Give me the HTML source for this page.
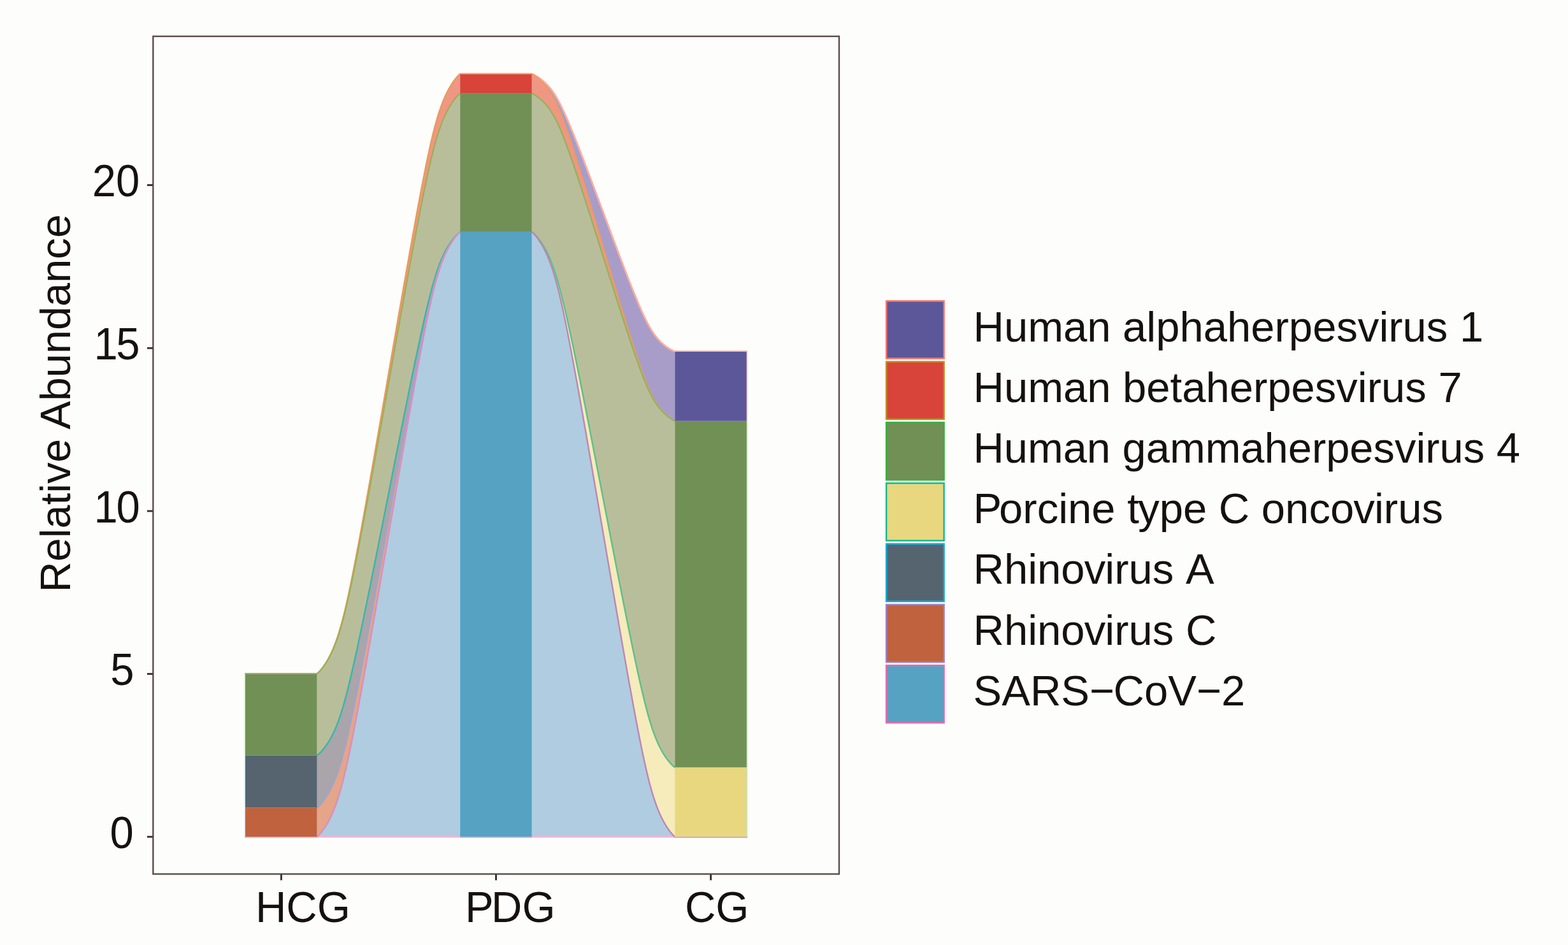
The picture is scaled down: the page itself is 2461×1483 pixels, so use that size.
<!DOCTYPE html>
<html lang="en"><head><meta charset="utf-8"><title>Relative Abundance</title>
<style>
html,body{margin:0;padding:0;background:#fdfdfc;}
body{width:2461px;height:1483px;overflow:hidden;}
svg{display:block;filter:blur(0.3px);}
text{font-family:"Liberation Sans",Arial,Helvetica,sans-serif;font-size:66.70px;fill:#15110f;}
</style></head><body>
<svg width="2461" height="1483" viewBox="0 0 2461 1483" role="img" aria-label="Alluvial plot of relative abundance">
<defs><linearGradient id="pdgtop" x1="0" y1="0" x2="0" y2="1"><stop offset="0" stop-color="#f6b98e" stop-opacity="0"/><stop offset="0.35" stop-color="#f3ae84" stop-opacity="0.85"/><stop offset="0.75" stop-color="#e57f58" stop-opacity="0.9"/><stop offset="1" stop-color="#d8433a" stop-opacity="0"/></linearGradient></defs>
<rect x="0" y="0" width="2461" height="1483" fill="#fdfdfc"/>
<g id="flows" stroke-linejoin="round" stroke-linecap="butt">
<polygon points="497.60,1057.50 497.61,1057.50 497.64,1057.47 497.73,1057.40 497.91,1057.26 498.19,1057.02 498.59,1056.67 499.13,1056.17 499.81,1055.51 500.64,1054.66 501.62,1053.61 502.74,1052.35 504.00,1050.85 505.38,1049.13 506.87,1047.17 508.45,1044.97 510.10,1042.53 511.81,1039.86 513.56,1036.95 515.34,1033.82 517.13,1030.46 518.94,1026.88 520.73,1023.07 522.53,1019.03 524.31,1014.75 526.08,1010.23 527.83,1005.45 529.58,1000.40 531.32,995.07 533.06,989.44 534.80,983.47 536.55,977.17 538.31,970.48 540.09,963.40 541.91,955.89 543.75,947.93 545.64,939.50 547.58,930.56 549.57,921.10 551.62,911.11 553.74,900.58 555.91,889.53 558.16,877.94 560.47,865.81 562.85,853.12 565.31,839.88 567.85,826.09 570.46,811.74 573.14,796.86 575.90,781.46 578.73,765.56 581.63,749.18 584.59,732.35 587.61,715.11 590.68,697.50 593.81,679.56 596.97,661.34 600.17,642.90 603.39,624.28 606.63,605.54 609.88,586.75 613.12,567.96 616.36,549.22 619.58,530.60 622.78,512.16 625.94,493.94 629.07,476.00 632.14,458.39 635.16,441.15 638.12,424.32 641.02,407.94 643.85,392.04 646.61,376.64 649.29,361.76 651.90,347.41 654.44,333.62 656.90,320.38 659.28,307.69 661.59,295.56 663.84,283.97 666.01,272.92 668.13,262.39 670.18,252.40 672.17,242.94 674.11,234.00 676.00,225.57 677.84,217.61 679.66,210.10 681.44,203.02 683.20,196.33 684.95,190.03 686.69,184.06 688.43,178.43 690.17,173.10 691.92,168.05 693.67,163.27 695.44,158.75 697.22,154.47 699.02,150.43 700.81,146.62 702.62,143.04 704.41,139.68 706.19,136.55 707.94,133.64 709.65,130.97 711.30,128.53 712.88,126.33 714.37,124.37 715.75,122.65 717.01,121.15 718.13,119.89 719.11,118.84 719.94,117.99 720.62,117.33 721.16,116.83 721.56,116.48 721.84,116.24 722.02,116.10 722.11,116.03 722.14,116.00 722.15,116.00 722.15,146.60 722.14,146.60 722.11,146.63 722.02,146.70 721.84,146.84 721.56,147.06 721.16,147.41 720.62,147.89 719.94,148.53 719.11,149.35 718.13,150.36 717.01,151.59 715.75,153.03 714.37,154.70 712.88,156.60 711.30,158.73 709.65,161.08 707.94,163.67 706.19,166.48 704.41,169.51 702.62,172.76 700.81,176.22 699.02,179.91 697.22,183.82 695.44,187.96 693.67,192.33 691.92,196.96 690.17,201.84 688.43,207.00 686.69,212.45 684.95,218.22 683.20,224.32 681.44,230.79 679.66,237.64 677.84,244.90 676.00,252.60 674.11,260.77 672.17,269.42 670.18,278.57 668.13,288.23 666.01,298.42 663.84,309.11 661.59,320.32 659.28,332.06 656.90,344.33 654.44,357.15 651.90,370.49 649.29,384.37 646.61,398.77 643.85,413.67 641.02,429.05 638.12,444.90 635.16,461.18 632.14,477.86 629.07,494.90 625.94,512.26 622.78,529.88 619.58,547.73 616.36,565.74 613.12,583.87 609.88,602.05 606.63,620.23 603.39,638.36 600.17,656.37 596.97,674.22 593.81,691.84 590.68,709.20 587.61,726.24 584.59,742.92 581.63,759.20 578.73,775.05 575.90,790.43 573.14,805.33 570.46,819.73 567.85,833.61 565.31,846.95 562.85,859.77 560.47,872.04 558.16,883.78 555.91,894.99 553.74,905.68 551.62,915.87 549.57,925.53 547.58,934.68 545.64,943.33 543.75,951.50 541.91,959.20 540.09,966.46 538.31,973.31 536.55,979.78 534.80,985.88 533.06,991.65 531.32,997.10 529.58,1002.26 527.83,1007.14 526.08,1011.77 524.31,1016.14 522.53,1020.28 520.73,1024.19 518.94,1027.88 517.13,1031.34 515.34,1034.59 513.56,1037.62 511.81,1040.43 510.10,1043.02 508.45,1045.37 506.87,1047.50 505.38,1049.40 504.00,1051.07 502.74,1052.51 501.62,1053.74 500.64,1054.75 499.81,1055.57 499.13,1056.21 498.59,1056.69 498.19,1057.04 497.91,1057.26 497.73,1057.40 497.64,1057.47 497.61,1057.50 497.60,1057.50" fill="#ef9782"/>
<polygon points="497.60,1057.50 497.61,1057.50 497.64,1057.47 497.73,1057.40 497.91,1057.26 498.19,1057.04 498.59,1056.69 499.13,1056.21 499.81,1055.57 500.64,1054.75 501.62,1053.74 502.74,1052.51 504.00,1051.07 505.38,1049.40 506.87,1047.50 508.45,1045.37 510.10,1043.02 511.81,1040.43 513.56,1037.62 515.34,1034.59 517.13,1031.34 518.94,1027.88 520.73,1024.19 522.53,1020.28 524.31,1016.14 526.08,1011.77 527.83,1007.14 529.58,1002.26 531.32,997.10 533.06,991.65 534.80,985.88 536.55,979.78 538.31,973.31 540.09,966.46 541.91,959.20 543.75,951.50 545.64,943.33 547.58,934.68 549.57,925.53 551.62,915.87 553.74,905.68 555.91,894.99 558.16,883.78 560.47,872.04 562.85,859.77 565.31,846.95 567.85,833.61 570.46,819.73 573.14,805.33 575.90,790.43 578.73,775.05 581.63,759.20 584.59,742.92 587.61,726.24 590.68,709.20 593.81,691.84 596.97,674.22 600.17,656.37 603.39,638.36 606.63,620.23 609.88,602.05 613.12,583.87 616.36,565.74 619.58,547.73 622.78,529.88 625.94,512.26 629.07,494.90 632.14,477.86 635.16,461.18 638.12,444.90 641.02,429.05 643.85,413.67 646.61,398.77 649.29,384.37 651.90,370.49 654.44,357.15 656.90,344.33 659.28,332.06 661.59,320.32 663.84,309.11 666.01,298.42 668.13,288.23 670.18,278.57 672.17,269.42 674.11,260.77 676.00,252.60 677.84,244.90 679.66,237.64 681.44,230.79 683.20,224.32 684.95,218.22 686.69,212.45 688.43,207.00 690.17,201.84 691.92,196.96 693.67,192.33 695.44,187.96 697.22,183.82 699.02,179.91 700.81,176.22 702.62,172.76 704.41,169.51 706.19,166.48 707.94,163.67 709.65,161.08 711.30,158.73 712.88,156.60 714.37,154.70 715.75,153.03 717.01,151.59 718.13,150.36 719.11,149.35 719.94,148.53 720.62,147.89 721.16,147.41 721.56,147.06 721.84,146.84 722.02,146.70 722.11,146.63 722.14,146.60 722.15,146.60 722.15,363.90 722.14,363.90 722.11,363.93 722.02,363.99 721.84,364.11 721.56,364.32 721.16,364.63 720.62,365.06 719.94,365.64 719.11,366.38 718.13,367.29 717.01,368.40 715.75,369.70 714.37,371.20 712.88,372.92 711.30,374.84 709.65,376.96 707.94,379.29 706.19,381.83 704.41,384.56 702.62,387.49 700.81,390.62 699.02,393.94 697.22,397.47 695.44,401.20 693.67,405.15 691.92,409.31 690.17,413.72 688.43,418.37 686.69,423.29 684.95,428.49 683.20,434.00 681.44,439.83 679.66,446.01 677.84,452.56 676.00,459.50 674.11,466.86 672.17,474.66 670.18,482.92 668.13,491.63 666.01,500.82 663.84,510.46 661.59,520.57 659.28,531.16 656.90,542.23 654.44,553.78 651.90,565.82 649.29,578.33 646.61,591.32 643.85,604.76 641.02,618.63 638.12,632.93 635.16,647.61 632.14,662.65 629.07,678.02 625.94,693.67 622.78,709.56 619.58,725.66 616.36,741.90 613.12,758.25 609.88,774.65 606.63,791.05 603.39,807.40 600.17,823.64 596.97,839.74 593.81,855.63 590.68,871.28 587.61,886.65 584.59,901.69 581.63,916.37 578.73,930.67 575.90,944.54 573.14,957.98 570.46,970.97 567.85,983.48 565.31,995.52 562.85,1007.07 560.47,1018.14 558.16,1028.73 555.91,1038.84 553.74,1048.48 551.62,1057.67 549.57,1066.38 547.58,1074.64 545.64,1082.44 543.75,1089.80 541.91,1096.74 540.09,1103.29 538.31,1109.47 536.55,1115.30 534.80,1120.81 533.06,1126.01 531.32,1130.93 529.58,1135.58 527.83,1139.99 526.08,1144.15 524.31,1148.10 522.53,1151.83 520.73,1155.36 518.94,1158.68 517.13,1161.81 515.34,1164.74 513.56,1167.47 511.81,1170.01 510.10,1172.34 508.45,1174.46 506.87,1176.38 505.38,1178.10 504.00,1179.60 502.74,1180.90 501.62,1182.01 500.64,1182.92 499.81,1183.66 499.13,1184.24 498.59,1184.67 498.19,1184.98 497.91,1185.19 497.73,1185.31 497.64,1185.37 497.61,1185.40 497.60,1185.40" fill="#b9be9a"/>
<polygon points="497.60,1185.40 497.61,1185.40 497.64,1185.37 497.73,1185.31 497.91,1185.19 498.19,1184.98 498.59,1184.67 499.13,1184.24 499.81,1183.66 500.64,1182.92 501.62,1182.01 502.74,1180.90 504.00,1179.60 505.38,1178.10 506.87,1176.38 508.45,1174.46 510.10,1172.34 511.81,1170.01 513.56,1167.47 515.34,1164.74 517.13,1161.81 518.94,1158.68 520.73,1155.36 522.53,1151.83 524.31,1148.10 526.08,1144.15 527.83,1139.99 529.58,1135.58 531.32,1130.93 533.06,1126.01 534.80,1120.81 536.55,1115.30 538.31,1109.47 540.09,1103.29 541.91,1096.74 543.75,1089.80 545.64,1082.44 547.58,1074.64 549.57,1066.38 551.62,1057.67 553.74,1048.48 555.91,1038.84 558.16,1028.73 560.47,1018.14 562.85,1007.07 565.31,995.52 567.85,983.48 570.46,970.97 573.14,957.98 575.90,944.54 578.73,930.67 581.63,916.37 584.59,901.69 587.61,886.65 590.68,871.28 593.81,855.63 596.97,839.74 600.17,823.64 603.39,807.40 606.63,791.05 609.88,774.65 613.12,758.25 616.36,741.90 619.58,725.66 622.78,709.56 625.94,693.67 629.07,678.02 632.14,662.65 635.16,647.61 638.12,632.93 641.02,618.63 643.85,604.76 646.61,591.32 649.29,578.33 651.90,565.82 654.44,553.78 656.90,542.23 659.28,531.16 661.59,520.57 663.84,510.46 666.01,500.82 668.13,491.63 670.18,482.92 672.17,474.66 674.11,466.86 676.00,459.50 677.84,452.56 679.66,446.01 681.44,439.83 683.20,434.00 684.95,428.49 686.69,423.29 688.43,418.37 690.17,413.72 691.92,409.31 693.67,405.15 695.44,401.20 697.22,397.47 699.02,393.94 700.81,390.62 702.62,387.49 704.41,384.56 706.19,381.83 707.94,379.29 709.65,376.96 711.30,374.84 712.88,372.92 714.37,371.20 715.75,369.70 717.01,368.40 718.13,367.29 719.11,366.38 719.94,365.64 720.62,365.06 721.16,364.63 721.56,364.32 721.84,364.11 722.02,363.99 722.11,363.93 722.14,363.90 722.15,363.90 722.15,363.90 722.14,363.90 722.11,363.93 722.02,364.00 721.84,364.13 721.56,364.36 721.16,364.70 720.62,365.18 719.94,365.81 719.11,366.63 718.13,367.63 717.01,368.85 715.75,370.28 714.37,371.93 712.88,373.82 711.30,375.93 709.65,378.27 707.94,380.83 706.19,383.62 704.41,386.63 702.62,389.85 700.81,393.29 699.02,396.95 697.22,400.83 695.44,404.93 693.67,409.27 691.92,413.86 690.17,418.70 688.43,423.82 686.69,429.23 684.95,434.95 683.20,441.01 681.44,447.42 679.66,454.22 677.84,461.43 676.00,469.07 674.11,477.17 672.17,485.75 670.18,494.83 668.13,504.42 666.01,514.52 663.84,525.12 661.59,536.25 659.28,547.89 656.90,560.07 654.44,572.78 651.90,586.02 649.29,599.79 646.61,614.07 643.85,628.86 641.02,644.12 638.12,659.85 635.16,676.00 632.14,692.54 629.07,709.45 625.94,726.66 622.78,744.15 619.58,761.86 616.36,779.73 613.12,797.71 609.88,815.75 606.63,833.79 603.39,851.77 600.17,869.64 596.97,887.35 593.81,904.84 590.68,922.05 587.61,938.96 584.59,955.50 581.63,971.65 578.73,987.38 575.90,1002.64 573.14,1017.43 570.46,1031.71 567.85,1045.48 565.31,1058.72 562.85,1071.43 560.47,1083.61 558.16,1095.25 555.91,1106.38 553.74,1116.98 551.62,1127.08 549.57,1136.67 547.58,1145.75 545.64,1154.33 543.75,1162.43 541.91,1170.07 540.09,1177.28 538.31,1184.08 536.55,1190.49 534.80,1196.55 533.06,1202.27 531.32,1207.68 529.58,1212.80 527.83,1217.64 526.08,1222.23 524.31,1226.57 522.53,1230.67 520.73,1234.55 518.94,1238.21 517.13,1241.65 515.34,1244.87 513.56,1247.88 511.81,1250.67 510.10,1253.23 508.45,1255.57 506.87,1257.68 505.38,1259.57 504.00,1261.22 502.74,1262.65 501.62,1263.87 500.64,1264.87 499.81,1265.69 499.13,1266.32 498.59,1266.80 498.19,1267.14 497.91,1267.37 497.73,1267.50 497.64,1267.57 497.61,1267.60 497.60,1267.60" fill="#a9a5ab"/>
<polygon points="497.60,1267.60 497.61,1267.60 497.64,1267.57 497.73,1267.50 497.91,1267.37 498.19,1267.14 498.59,1266.80 499.13,1266.32 499.81,1265.69 500.64,1264.87 501.62,1263.87 502.74,1262.65 504.00,1261.22 505.38,1259.57 506.87,1257.68 508.45,1255.57 510.10,1253.23 511.81,1250.67 513.56,1247.88 515.34,1244.87 517.13,1241.65 518.94,1238.21 520.73,1234.55 522.53,1230.67 524.31,1226.57 526.08,1222.23 527.83,1217.64 529.58,1212.80 531.32,1207.68 533.06,1202.27 534.80,1196.55 536.55,1190.49 538.31,1184.08 540.09,1177.28 541.91,1170.07 543.75,1162.43 545.64,1154.33 547.58,1145.75 549.57,1136.67 551.62,1127.08 553.74,1116.98 555.91,1106.38 558.16,1095.25 560.47,1083.61 562.85,1071.43 565.31,1058.72 567.85,1045.48 570.46,1031.71 573.14,1017.43 575.90,1002.64 578.73,987.38 581.63,971.65 584.59,955.50 587.61,938.96 590.68,922.05 593.81,904.84 596.97,887.35 600.17,869.64 603.39,851.77 606.63,833.79 609.88,815.75 613.12,797.71 616.36,779.73 619.58,761.86 622.78,744.15 625.94,726.66 629.07,709.45 632.14,692.54 635.16,676.00 638.12,659.85 641.02,644.12 643.85,628.86 646.61,614.07 649.29,599.79 651.90,586.02 654.44,572.78 656.90,560.07 659.28,547.89 661.59,536.25 663.84,525.12 666.01,514.52 668.13,504.42 670.18,494.83 672.17,485.75 674.11,477.17 676.00,469.07 677.84,461.43 679.66,454.22 681.44,447.42 683.20,441.01 684.95,434.95 686.69,429.23 688.43,423.82 690.17,418.70 691.92,413.86 693.67,409.27 695.44,404.93 697.22,400.83 699.02,396.95 700.81,393.29 702.62,389.85 704.41,386.63 706.19,383.62 707.94,380.83 709.65,378.27 711.30,375.93 712.88,373.82 714.37,371.93 715.75,370.28 717.01,368.85 718.13,367.63 719.11,366.63 719.94,365.81 720.62,365.18 721.16,364.70 721.56,364.36 721.84,364.13 722.02,364.00 722.11,363.93 722.14,363.90 722.15,363.90 722.15,363.90 722.14,363.90 722.11,363.93 722.02,364.00 721.84,364.15 721.56,364.38 721.16,364.74 720.62,365.24 719.94,365.91 719.11,366.76 718.13,367.82 717.01,369.10 715.75,370.60 714.37,372.34 712.88,374.32 711.30,376.54 709.65,379.00 707.94,381.69 706.19,384.62 704.41,387.77 702.62,391.16 700.81,394.77 699.02,398.62 697.22,402.69 695.44,407.00 693.67,411.56 691.92,416.38 690.17,421.47 688.43,426.84 686.69,432.53 684.95,438.54 683.20,444.90 681.44,451.64 679.66,458.78 677.84,466.35 676.00,474.37 674.11,482.88 672.17,491.89 670.18,501.43 668.13,511.51 666.01,522.12 663.84,533.26 661.59,544.94 659.28,557.18 656.90,569.97 654.44,583.32 651.90,597.23 649.29,611.69 646.61,626.70 643.85,642.23 641.02,658.26 638.12,674.78 635.16,691.75 632.14,709.13 629.07,726.88 625.94,744.97 622.78,763.34 619.58,781.94 616.36,800.71 613.12,819.60 609.88,838.55 606.63,857.50 603.39,876.39 600.17,895.16 596.97,913.76 593.81,932.13 590.68,950.22 587.61,967.97 584.59,985.35 581.63,1002.32 578.73,1018.84 575.90,1034.87 573.14,1050.40 570.46,1065.41 567.85,1079.87 565.31,1093.78 562.85,1107.13 560.47,1119.92 558.16,1132.16 555.91,1143.84 553.74,1154.98 551.62,1165.59 549.57,1175.67 547.58,1185.21 545.64,1194.22 543.75,1202.73 541.91,1210.75 540.09,1218.32 538.31,1225.46 536.55,1232.20 534.80,1238.56 533.06,1244.57 531.32,1250.26 529.58,1255.63 527.83,1260.72 526.08,1265.54 524.31,1270.10 522.53,1274.41 520.73,1278.48 518.94,1282.33 517.13,1285.94 515.34,1289.33 513.56,1292.48 511.81,1295.41 510.10,1298.10 508.45,1300.56 506.87,1302.78 505.38,1304.76 504.00,1306.50 502.74,1308.00 501.62,1309.28 500.64,1310.34 499.81,1311.19 499.13,1311.86 498.59,1312.36 498.19,1312.72 497.91,1312.95 497.73,1313.10 497.64,1313.17 497.61,1313.20 497.60,1313.20" fill="#e4a588"/>
<polygon points="497.60,1313.20 497.61,1313.20 497.64,1313.17 497.73,1313.10 497.91,1312.95 498.19,1312.72 498.59,1312.36 499.13,1311.86 499.81,1311.19 500.64,1310.34 501.62,1309.28 502.74,1308.00 504.00,1306.50 505.38,1304.76 506.87,1302.78 508.45,1300.56 510.10,1298.10 511.81,1295.41 513.56,1292.48 515.34,1289.33 517.13,1285.94 518.94,1282.33 520.73,1278.48 522.53,1274.41 524.31,1270.10 526.08,1265.54 527.83,1260.72 529.58,1255.63 531.32,1250.26 533.06,1244.57 534.80,1238.56 536.55,1232.20 538.31,1225.46 540.09,1218.32 541.91,1210.75 543.75,1202.73 545.64,1194.22 547.58,1185.21 549.57,1175.67 551.62,1165.59 553.74,1154.98 555.91,1143.84 558.16,1132.16 560.47,1119.92 562.85,1107.13 565.31,1093.78 567.85,1079.87 570.46,1065.41 573.14,1050.40 575.90,1034.87 578.73,1018.84 581.63,1002.32 584.59,985.35 587.61,967.97 590.68,950.22 593.81,932.13 596.97,913.76 600.17,895.16 603.39,876.39 606.63,857.50 609.88,838.55 613.12,819.60 616.36,800.71 619.58,781.94 622.78,763.34 625.94,744.97 629.07,726.88 632.14,709.13 635.16,691.75 638.12,674.78 641.02,658.26 643.85,642.23 646.61,626.70 649.29,611.69 651.90,597.23 654.44,583.32 656.90,569.97 659.28,557.18 661.59,544.94 663.84,533.26 666.01,522.12 668.13,511.51 670.18,501.43 672.17,491.89 674.11,482.88 676.00,474.37 677.84,466.35 679.66,458.78 681.44,451.64 683.20,444.90 684.95,438.54 686.69,432.53 688.43,426.84 690.17,421.47 691.92,416.38 693.67,411.56 695.44,407.00 697.22,402.69 699.02,398.62 700.81,394.77 702.62,391.16 704.41,387.77 706.19,384.62 707.94,381.69 709.65,379.00 711.30,376.54 712.88,374.32 714.37,372.34 715.75,370.60 717.01,369.10 718.13,367.82 719.11,366.76 719.94,365.91 720.62,365.24 721.16,364.74 721.56,364.38 721.84,364.15 722.02,364.00 722.11,363.93 722.14,363.90 722.15,363.90 722.15,1313.20 722.14,1313.20 722.11,1313.20 722.02,1313.20 721.84,1313.20 721.56,1313.20 721.16,1313.20 720.62,1313.20 719.94,1313.20 719.11,1313.20 718.13,1313.20 717.01,1313.20 715.75,1313.20 714.37,1313.20 712.88,1313.20 711.30,1313.20 709.65,1313.20 707.94,1313.20 706.19,1313.20 704.41,1313.20 702.62,1313.20 700.81,1313.20 699.02,1313.20 697.22,1313.20 695.44,1313.20 693.67,1313.20 691.92,1313.20 690.17,1313.20 688.43,1313.20 686.69,1313.20 684.95,1313.20 683.20,1313.20 681.44,1313.20 679.66,1313.20 677.84,1313.20 676.00,1313.20 674.11,1313.20 672.17,1313.20 670.18,1313.20 668.13,1313.20 666.01,1313.20 663.84,1313.20 661.59,1313.20 659.28,1313.20 656.90,1313.20 654.44,1313.20 651.90,1313.20 649.29,1313.20 646.61,1313.20 643.85,1313.20 641.02,1313.20 638.12,1313.20 635.16,1313.20 632.14,1313.20 629.07,1313.20 625.94,1313.20 622.78,1313.20 619.58,1313.20 616.36,1313.20 613.12,1313.20 609.88,1313.20 606.63,1313.20 603.39,1313.20 600.17,1313.20 596.97,1313.20 593.81,1313.20 590.68,1313.20 587.61,1313.20 584.59,1313.20 581.63,1313.20 578.73,1313.20 575.90,1313.20 573.14,1313.20 570.46,1313.20 567.85,1313.20 565.31,1313.20 562.85,1313.20 560.47,1313.20 558.16,1313.20 555.91,1313.20 553.74,1313.20 551.62,1313.20 549.57,1313.20 547.58,1313.20 545.64,1313.20 543.75,1313.20 541.91,1313.20 540.09,1313.20 538.31,1313.20 536.55,1313.20 534.80,1313.20 533.06,1313.20 531.32,1313.20 529.58,1313.20 527.83,1313.20 526.08,1313.20 524.31,1313.20 522.53,1313.20 520.73,1313.20 518.94,1313.20 517.13,1313.20 515.34,1313.20 513.56,1313.20 511.81,1313.20 510.10,1313.20 508.45,1313.20 506.87,1313.20 505.38,1313.20 504.00,1313.20 502.74,1313.20 501.62,1313.20 500.64,1313.20 499.81,1313.20 499.13,1313.20 498.59,1313.20 498.19,1313.20 497.91,1313.20 497.73,1313.20 497.64,1313.20 497.61,1313.20 497.60,1313.20" fill="#b0cce0"/>
<polygon points="834.75,116.00 834.76,116.00 834.79,116.01 834.88,116.05 835.06,116.11 835.34,116.22 835.74,116.39 836.28,116.62 836.96,116.92 837.79,117.31 838.77,117.80 839.89,118.38 841.15,119.07 842.53,119.87 844.01,120.78 845.59,121.80 847.24,122.93 848.95,124.16 850.71,125.51 852.48,126.96 854.28,128.51 856.08,130.17 857.88,131.93 859.67,133.80 861.45,135.78 863.22,137.87 864.98,140.08 866.72,142.42 868.46,144.88 870.20,147.49 871.94,150.25 873.69,153.17 875.45,156.26 877.23,159.54 879.05,163.01 880.89,166.69 882.78,170.60 884.72,174.73 886.71,179.11 888.76,183.73 890.87,188.60 893.05,193.71 895.29,199.07 897.60,204.69 899.99,210.56 902.45,216.68 904.98,223.07 907.59,229.70 910.27,236.59 913.03,243.71 915.86,251.07 918.76,258.65 921.72,266.44 924.74,274.41 927.81,282.56 930.93,290.86 934.10,299.29 937.29,307.82 940.51,316.44 943.75,325.10 947.00,333.80 950.25,342.50 953.49,351.16 956.71,359.78 959.90,368.31 963.07,376.74 966.19,385.04 969.26,393.19 972.28,401.16 975.24,408.95 978.14,416.53 980.97,423.89 983.73,431.01 986.41,437.90 989.02,444.53 991.55,450.92 994.01,457.04 996.40,462.91 998.71,468.53 1000.95,473.89 1003.12,479.00 1005.24,483.87 1007.29,488.49 1009.28,492.87 1011.22,497.00 1013.11,500.91 1014.95,504.59 1016.77,508.06 1018.55,511.34 1020.31,514.43 1022.06,517.35 1023.80,520.11 1025.54,522.72 1027.28,525.18 1029.02,527.52 1030.78,529.73 1032.55,531.82 1034.33,533.80 1036.12,535.67 1037.92,537.43 1039.72,539.09 1041.52,540.64 1043.29,542.09 1045.05,543.44 1046.76,544.67 1048.41,545.80 1049.99,546.82 1051.47,547.73 1052.85,548.53 1054.11,549.22 1055.23,549.80 1056.21,550.29 1057.04,550.68 1057.72,550.98 1058.26,551.21 1058.66,551.38 1058.94,551.49 1059.12,551.55 1059.21,551.59 1059.24,551.60 1059.25,551.60 1059.25,660.70 1059.24,660.70 1059.21,660.68 1059.12,660.64 1058.94,660.56 1058.66,660.42 1058.26,660.22 1057.72,659.93 1057.04,659.55 1056.21,659.06 1055.23,658.45 1054.11,657.72 1052.85,656.86 1051.47,655.86 1049.99,654.72 1048.41,653.45 1046.76,652.04 1045.05,650.49 1043.29,648.81 1041.52,647.00 1039.72,645.06 1037.92,642.98 1036.12,640.78 1034.33,638.44 1032.55,635.97 1030.78,633.35 1029.02,630.59 1027.28,627.67 1025.54,624.58 1023.80,621.32 1022.06,617.87 1020.31,614.22 1018.55,610.36 1016.77,606.26 1014.95,601.92 1013.11,597.31 1011.22,592.43 1009.28,587.26 1007.29,581.79 1005.24,576.01 1003.12,569.92 1000.95,563.52 998.71,556.82 996.40,549.80 994.01,542.46 991.55,534.80 989.02,526.82 986.41,518.52 983.73,509.91 980.97,501.00 978.14,491.80 975.24,482.32 972.28,472.59 969.26,462.61 966.19,452.42 963.07,442.05 959.90,431.51 956.71,420.83 953.49,410.06 950.25,399.22 947.00,388.35 943.75,377.48 940.51,366.64 937.29,355.87 934.10,345.19 930.93,334.65 927.81,324.28 924.74,314.09 921.72,304.11 918.76,294.38 915.86,284.90 913.03,275.70 910.27,266.79 907.59,258.18 904.98,249.88 902.45,241.90 899.99,234.24 897.60,226.90 895.29,219.88 893.05,213.18 890.87,206.78 888.76,200.69 886.71,194.91 884.72,189.44 882.78,184.27 880.89,179.39 879.05,174.78 877.23,170.44 875.45,166.34 873.69,162.48 871.94,158.83 870.20,155.38 868.46,152.12 866.72,149.03 864.98,146.11 863.22,143.35 861.45,140.73 859.67,138.26 857.88,135.92 856.08,133.72 854.28,131.64 852.48,129.70 850.71,127.89 848.95,126.21 847.24,124.66 845.59,123.25 844.01,121.98 842.53,120.84 841.15,119.84 839.89,118.98 838.77,118.25 837.79,117.64 836.96,117.15 836.28,116.77 835.74,116.48 835.34,116.28 835.06,116.14 834.88,116.06 834.79,116.02 834.76,116.00 834.75,116.00" fill="#a89dc9"/>
<polygon points="834.75,116.00 834.76,116.00 834.79,116.02 834.88,116.06 835.06,116.14 835.34,116.28 835.74,116.48 836.28,116.77 836.96,117.15 837.79,117.64 838.77,118.25 839.89,118.98 841.15,119.84 842.53,120.84 844.01,121.98 845.59,123.25 847.24,124.66 848.95,126.21 850.71,127.89 852.48,129.70 854.28,131.64 856.08,133.72 857.88,135.92 859.67,138.26 861.45,140.73 863.22,143.35 864.98,146.11 866.72,149.03 868.46,152.12 870.20,155.38 871.94,158.83 873.69,162.48 875.45,166.34 877.23,170.44 879.05,174.78 880.89,179.39 882.78,184.27 884.72,189.44 886.71,194.91 888.76,200.69 890.87,206.78 893.05,213.18 895.29,219.88 897.60,226.90 899.99,234.24 902.45,241.90 904.98,249.88 907.59,258.18 910.27,266.79 913.03,275.70 915.86,284.90 918.76,294.38 921.72,304.11 924.74,314.09 927.81,324.28 930.93,334.65 934.10,345.19 937.29,355.87 940.51,366.64 943.75,377.48 947.00,388.35 950.25,399.22 953.49,410.06 956.71,420.83 959.90,431.51 963.07,442.05 966.19,452.42 969.26,462.61 972.28,472.59 975.24,482.32 978.14,491.80 980.97,501.00 983.73,509.91 986.41,518.52 989.02,526.82 991.55,534.80 994.01,542.46 996.40,549.80 998.71,556.82 1000.95,563.52 1003.12,569.92 1005.24,576.01 1007.29,581.79 1009.28,587.26 1011.22,592.43 1013.11,597.31 1014.95,601.92 1016.77,606.26 1018.55,610.36 1020.31,614.22 1022.06,617.87 1023.80,621.32 1025.54,624.58 1027.28,627.67 1029.02,630.59 1030.78,633.35 1032.55,635.97 1034.33,638.44 1036.12,640.78 1037.92,642.98 1039.72,645.06 1041.52,647.00 1043.29,648.81 1045.05,650.49 1046.76,652.04 1048.41,653.45 1049.99,654.72 1051.47,655.86 1052.85,656.86 1054.11,657.72 1055.23,658.45 1056.21,659.06 1057.04,659.55 1057.72,659.93 1058.26,660.22 1058.66,660.42 1058.94,660.56 1059.12,660.64 1059.21,660.68 1059.24,660.70 1059.25,660.70 1059.25,660.70 1059.24,660.70 1059.21,660.68 1059.12,660.64 1058.94,660.57 1058.66,660.44 1058.26,660.24 1057.72,659.97 1057.04,659.61 1056.21,659.15 1055.23,658.58 1054.11,657.89 1052.85,657.07 1051.47,656.13 1049.99,655.06 1048.41,653.86 1046.76,652.52 1045.05,651.07 1043.29,649.48 1041.52,647.77 1039.72,645.94 1037.92,643.98 1036.12,641.90 1034.33,639.69 1032.55,637.36 1030.78,634.89 1029.02,632.28 1027.28,629.52 1025.54,626.61 1023.80,623.53 1022.06,620.28 1020.31,616.83 1018.55,613.18 1016.77,609.32 1014.95,605.22 1013.11,600.87 1011.22,596.26 1009.28,591.38 1007.29,586.22 1005.24,580.76 1003.12,575.02 1000.95,568.98 998.71,562.65 996.40,556.03 994.01,549.10 991.55,541.87 989.02,534.34 986.41,526.51 983.73,518.38 980.97,509.97 978.14,501.29 975.24,492.34 972.28,483.15 969.26,473.74 966.19,464.12 963.07,454.33 959.90,444.38 956.71,434.31 953.49,424.14 950.25,413.91 947.00,403.65 943.75,393.39 940.51,383.16 937.29,372.99 934.10,362.92 930.93,352.97 927.81,343.18 924.74,333.56 921.72,324.15 918.76,314.96 915.86,306.01 913.03,297.33 910.27,288.92 907.59,280.79 904.98,272.96 902.45,265.43 899.99,258.20 897.60,251.27 895.29,244.65 893.05,238.32 890.87,232.28 888.76,226.54 886.71,221.08 884.72,215.92 882.78,211.04 880.89,206.43 879.05,202.08 877.23,197.98 875.45,194.12 873.69,190.47 871.94,187.02 870.20,183.77 868.46,180.69 866.72,177.78 864.98,175.02 863.22,172.41 861.45,169.94 859.67,167.61 857.88,165.40 856.08,163.32 854.28,161.36 852.48,159.53 850.71,157.82 848.95,156.23 847.24,154.78 845.59,153.44 844.01,152.24 842.53,151.17 841.15,150.23 839.89,149.41 838.77,148.72 837.79,148.15 836.96,147.69 836.28,147.33 835.74,147.06 835.34,146.86 835.06,146.73 834.88,146.66 834.79,146.62 834.76,146.60 834.75,146.60" fill="#ef9782"/>
<polygon points="834.75,146.60 834.76,146.60 834.79,146.62 834.88,146.66 835.06,146.73 835.34,146.86 835.74,147.06 836.28,147.33 836.96,147.69 837.79,148.15 838.77,148.72 839.89,149.41 841.15,150.23 842.53,151.17 844.01,152.24 845.59,153.44 847.24,154.78 848.95,156.23 850.71,157.82 852.48,159.53 854.28,161.36 856.08,163.32 857.88,165.40 859.67,167.61 861.45,169.94 863.22,172.41 864.98,175.02 866.72,177.78 868.46,180.69 870.20,183.77 871.94,187.02 873.69,190.47 875.45,194.12 877.23,197.98 879.05,202.08 880.89,206.43 882.78,211.04 884.72,215.92 886.71,221.08 888.76,226.54 890.87,232.28 893.05,238.32 895.29,244.65 897.60,251.27 899.99,258.20 902.45,265.43 904.98,272.96 907.59,280.79 910.27,288.92 913.03,297.33 915.86,306.01 918.76,314.96 921.72,324.15 924.74,333.56 927.81,343.18 930.93,352.97 934.10,362.92 937.29,372.99 940.51,383.16 943.75,393.39 947.00,403.65 950.25,413.91 953.49,424.14 956.71,434.31 959.90,444.38 963.07,454.33 966.19,464.12 969.26,473.74 972.28,483.15 975.24,492.34 978.14,501.29 980.97,509.97 983.73,518.38 986.41,526.51 989.02,534.34 991.55,541.87 994.01,549.10 996.40,556.03 998.71,562.65 1000.95,568.98 1003.12,575.02 1005.24,580.76 1007.29,586.22 1009.28,591.38 1011.22,596.26 1013.11,600.87 1014.95,605.22 1016.77,609.32 1018.55,613.18 1020.31,616.83 1022.06,620.28 1023.80,623.53 1025.54,626.61 1027.28,629.52 1029.02,632.28 1030.78,634.89 1032.55,637.36 1034.33,639.69 1036.12,641.90 1037.92,643.98 1039.72,645.94 1041.52,647.77 1043.29,649.48 1045.05,651.07 1046.76,652.52 1048.41,653.86 1049.99,655.06 1051.47,656.13 1052.85,657.07 1054.11,657.89 1055.23,658.58 1056.21,659.15 1057.04,659.61 1057.72,659.97 1058.26,660.24 1058.66,660.44 1058.94,660.57 1059.12,660.64 1059.21,660.68 1059.24,660.70 1059.25,660.70 1059.25,1204.30 1059.24,1204.30 1059.21,1204.27 1059.12,1204.21 1058.94,1204.08 1058.66,1203.87 1058.26,1203.56 1057.72,1203.11 1057.04,1202.52 1056.21,1201.77 1055.23,1200.83 1054.11,1199.70 1052.85,1198.37 1051.47,1196.83 1049.99,1195.08 1048.41,1193.11 1046.76,1190.94 1045.05,1188.55 1043.29,1185.96 1041.52,1183.16 1039.72,1180.17 1037.92,1176.97 1036.12,1173.57 1034.33,1169.96 1032.55,1166.14 1030.78,1162.10 1029.02,1157.84 1027.28,1153.34 1025.54,1148.58 1023.80,1143.54 1022.06,1138.22 1020.31,1132.59 1018.55,1126.63 1016.77,1120.31 1014.95,1113.60 1013.11,1106.50 1011.22,1098.97 1009.28,1090.99 1007.29,1082.54 1005.24,1073.63 1003.12,1064.23 1000.95,1054.37 998.71,1044.02 996.40,1033.19 994.01,1021.87 991.55,1010.05 989.02,997.74 986.41,984.93 983.73,971.65 980.97,957.90 978.14,943.71 975.24,929.08 972.28,914.06 969.26,898.68 966.19,882.96 963.07,866.95 959.90,850.68 956.71,834.22 953.49,817.60 950.25,800.88 947.00,784.10 943.75,767.32 940.51,750.60 937.29,733.98 934.10,717.52 930.93,701.25 927.81,685.24 924.74,669.52 921.72,654.14 918.76,639.12 915.86,624.49 913.03,610.30 910.27,596.55 907.59,583.27 904.98,570.46 902.45,558.15 899.99,546.33 897.60,535.01 895.29,524.18 893.05,513.83 890.87,503.97 888.76,494.57 886.71,485.66 884.72,477.21 882.78,469.23 880.89,461.70 879.05,454.60 877.23,447.89 875.45,441.57 873.69,435.61 871.94,429.98 870.20,424.66 868.46,419.62 866.72,414.86 864.98,410.36 863.22,406.10 861.45,402.06 859.67,398.24 857.88,394.63 856.08,391.23 854.28,388.03 852.48,385.04 850.71,382.24 848.95,379.65 847.24,377.26 845.59,375.09 844.01,373.12 842.53,371.37 841.15,369.83 839.89,368.50 838.77,367.37 837.79,366.43 836.96,365.68 836.28,365.09 835.74,364.64 835.34,364.33 835.06,364.12 834.88,363.99 834.79,363.93 834.76,363.90 834.75,363.90" fill="#b9be9a"/>
<polygon points="834.75,363.90 834.76,363.90 834.79,363.93 834.88,363.99 835.06,364.12 835.34,364.33 835.74,364.64 836.28,365.09 836.96,365.68 837.79,366.43 838.77,367.37 839.89,368.50 841.15,369.83 842.53,371.37 844.01,373.12 845.59,375.09 847.24,377.26 848.95,379.65 850.71,382.24 852.48,385.04 854.28,388.03 856.08,391.23 857.88,394.63 859.67,398.24 861.45,402.06 863.22,406.10 864.98,410.36 866.72,414.86 868.46,419.62 870.20,424.66 871.94,429.98 873.69,435.61 875.45,441.57 877.23,447.89 879.05,454.60 880.89,461.70 882.78,469.23 884.72,477.21 886.71,485.66 888.76,494.57 890.87,503.97 893.05,513.83 895.29,524.18 897.60,535.01 899.99,546.33 902.45,558.15 904.98,570.46 907.59,583.27 910.27,596.55 913.03,610.30 915.86,624.49 918.76,639.12 921.72,654.14 924.74,669.52 927.81,685.24 930.93,701.25 934.10,717.52 937.29,733.98 940.51,750.60 943.75,767.32 947.00,784.10 950.25,800.88 953.49,817.60 956.71,834.22 959.90,850.68 963.07,866.95 966.19,882.96 969.26,898.68 972.28,914.06 975.24,929.08 978.14,943.71 980.97,957.90 983.73,971.65 986.41,984.93 989.02,997.74 991.55,1010.05 994.01,1021.87 996.40,1033.19 998.71,1044.02 1000.95,1054.37 1003.12,1064.23 1005.24,1073.63 1007.29,1082.54 1009.28,1090.99 1011.22,1098.97 1013.11,1106.50 1014.95,1113.60 1016.77,1120.31 1018.55,1126.63 1020.31,1132.59 1022.06,1138.22 1023.80,1143.54 1025.54,1148.58 1027.28,1153.34 1029.02,1157.84 1030.78,1162.10 1032.55,1166.14 1034.33,1169.96 1036.12,1173.57 1037.92,1176.97 1039.72,1180.17 1041.52,1183.16 1043.29,1185.96 1045.05,1188.55 1046.76,1190.94 1048.41,1193.11 1049.99,1195.08 1051.47,1196.83 1052.85,1198.37 1054.11,1199.70 1055.23,1200.83 1056.21,1201.77 1057.04,1202.52 1057.72,1203.11 1058.26,1203.56 1058.66,1203.87 1058.94,1204.08 1059.12,1204.21 1059.21,1204.27 1059.24,1204.30 1059.25,1204.30 1059.25,1313.20 1059.24,1313.20 1059.21,1313.17 1059.12,1313.10 1058.94,1312.95 1058.66,1312.72 1058.26,1312.36 1057.72,1311.86 1057.04,1311.19 1056.21,1310.34 1055.23,1309.28 1054.11,1308.00 1052.85,1306.50 1051.47,1304.76 1049.99,1302.78 1048.41,1300.56 1046.76,1298.10 1045.05,1295.41 1043.29,1292.48 1041.52,1289.33 1039.72,1285.94 1037.92,1282.33 1036.12,1278.48 1034.33,1274.41 1032.55,1270.10 1030.78,1265.54 1029.02,1260.72 1027.28,1255.63 1025.54,1250.26 1023.80,1244.57 1022.06,1238.56 1020.31,1232.20 1018.55,1225.46 1016.77,1218.32 1014.95,1210.75 1013.11,1202.73 1011.22,1194.22 1009.28,1185.21 1007.29,1175.67 1005.24,1165.59 1003.12,1154.98 1000.95,1143.84 998.71,1132.16 996.40,1119.92 994.01,1107.13 991.55,1093.78 989.02,1079.87 986.41,1065.41 983.73,1050.40 980.97,1034.87 978.14,1018.84 975.24,1002.32 972.28,985.35 969.26,967.97 966.19,950.22 963.07,932.13 959.90,913.76 956.71,895.16 953.49,876.39 950.25,857.50 947.00,838.55 943.75,819.60 940.51,800.71 937.29,781.94 934.10,763.34 930.93,744.97 927.81,726.88 924.74,709.13 921.72,691.75 918.76,674.78 915.86,658.26 913.03,642.23 910.27,626.70 907.59,611.69 904.98,597.23 902.45,583.32 899.99,569.97 897.60,557.18 895.29,544.94 893.05,533.26 890.87,522.12 888.76,511.51 886.71,501.43 884.72,491.89 882.78,482.88 880.89,474.37 879.05,466.35 877.23,458.78 875.45,451.64 873.69,444.90 871.94,438.54 870.20,432.53 868.46,426.84 866.72,421.47 864.98,416.38 863.22,411.56 861.45,407.00 859.67,402.69 857.88,398.62 856.08,394.77 854.28,391.16 852.48,387.77 850.71,384.62 848.95,381.69 847.24,379.00 845.59,376.54 844.01,374.32 842.53,372.34 841.15,370.60 839.89,369.10 838.77,367.82 837.79,366.76 836.96,365.91 836.28,365.24 835.74,364.74 835.34,364.38 835.06,364.15 834.88,364.00 834.79,363.93 834.76,363.90 834.75,363.90" fill="#f6ebba"/>
<polygon points="834.75,363.90 834.76,363.90 834.79,363.93 834.88,364.00 835.06,364.15 835.34,364.38 835.74,364.74 836.28,365.24 836.96,365.91 837.79,366.76 838.77,367.82 839.89,369.10 841.15,370.60 842.53,372.34 844.01,374.32 845.59,376.54 847.24,379.00 848.95,381.69 850.71,384.62 852.48,387.77 854.28,391.16 856.08,394.77 857.88,398.62 859.67,402.69 861.45,407.00 863.22,411.56 864.98,416.38 866.72,421.47 868.46,426.84 870.20,432.53 871.94,438.54 873.69,444.90 875.45,451.64 877.23,458.78 879.05,466.35 880.89,474.37 882.78,482.88 884.72,491.89 886.71,501.43 888.76,511.51 890.87,522.12 893.05,533.26 895.29,544.94 897.60,557.18 899.99,569.97 902.45,583.32 904.98,597.23 907.59,611.69 910.27,626.70 913.03,642.23 915.86,658.26 918.76,674.78 921.72,691.75 924.74,709.13 927.81,726.88 930.93,744.97 934.10,763.34 937.29,781.94 940.51,800.71 943.75,819.60 947.00,838.55 950.25,857.50 953.49,876.39 956.71,895.16 959.90,913.76 963.07,932.13 966.19,950.22 969.26,967.97 972.28,985.35 975.24,1002.32 978.14,1018.84 980.97,1034.87 983.73,1050.40 986.41,1065.41 989.02,1079.87 991.55,1093.78 994.01,1107.13 996.40,1119.92 998.71,1132.16 1000.95,1143.84 1003.12,1154.98 1005.24,1165.59 1007.29,1175.67 1009.28,1185.21 1011.22,1194.22 1013.11,1202.73 1014.95,1210.75 1016.77,1218.32 1018.55,1225.46 1020.31,1232.20 1022.06,1238.56 1023.80,1244.57 1025.54,1250.26 1027.28,1255.63 1029.02,1260.72 1030.78,1265.54 1032.55,1270.10 1034.33,1274.41 1036.12,1278.48 1037.92,1282.33 1039.72,1285.94 1041.52,1289.33 1043.29,1292.48 1045.05,1295.41 1046.76,1298.10 1048.41,1300.56 1049.99,1302.78 1051.47,1304.76 1052.85,1306.50 1054.11,1308.00 1055.23,1309.28 1056.21,1310.34 1057.04,1311.19 1057.72,1311.86 1058.26,1312.36 1058.66,1312.72 1058.94,1312.95 1059.12,1313.10 1059.21,1313.17 1059.24,1313.20 1059.25,1313.20 1059.25,1313.20 1059.24,1313.20 1059.21,1313.20 1059.12,1313.20 1058.94,1313.20 1058.66,1313.20 1058.26,1313.20 1057.72,1313.20 1057.04,1313.20 1056.21,1313.20 1055.23,1313.20 1054.11,1313.20 1052.85,1313.20 1051.47,1313.20 1049.99,1313.20 1048.41,1313.20 1046.76,1313.20 1045.05,1313.20 1043.29,1313.20 1041.52,1313.20 1039.72,1313.20 1037.92,1313.20 1036.12,1313.20 1034.33,1313.20 1032.55,1313.20 1030.78,1313.20 1029.02,1313.20 1027.28,1313.20 1025.54,1313.20 1023.80,1313.20 1022.06,1313.20 1020.31,1313.20 1018.55,1313.20 1016.77,1313.20 1014.95,1313.20 1013.11,1313.20 1011.22,1313.20 1009.28,1313.20 1007.29,1313.20 1005.24,1313.20 1003.12,1313.20 1000.95,1313.20 998.71,1313.20 996.40,1313.20 994.01,1313.20 991.55,1313.20 989.02,1313.20 986.41,1313.20 983.73,1313.20 980.97,1313.20 978.14,1313.20 975.24,1313.20 972.28,1313.20 969.26,1313.20 966.19,1313.20 963.07,1313.20 959.90,1313.20 956.71,1313.20 953.49,1313.20 950.25,1313.20 947.00,1313.20 943.75,1313.20 940.51,1313.20 937.29,1313.20 934.10,1313.20 930.93,1313.20 927.81,1313.20 924.74,1313.20 921.72,1313.20 918.76,1313.20 915.86,1313.20 913.03,1313.20 910.27,1313.20 907.59,1313.20 904.98,1313.20 902.45,1313.20 899.99,1313.20 897.60,1313.20 895.29,1313.20 893.05,1313.20 890.87,1313.20 888.76,1313.20 886.71,1313.20 884.72,1313.20 882.78,1313.20 880.89,1313.20 879.05,1313.20 877.23,1313.20 875.45,1313.20 873.69,1313.20 871.94,1313.20 870.20,1313.20 868.46,1313.20 866.72,1313.20 864.98,1313.20 863.22,1313.20 861.45,1313.20 859.67,1313.20 857.88,1313.20 856.08,1313.20 854.28,1313.20 852.48,1313.20 850.71,1313.20 848.95,1313.20 847.24,1313.20 845.59,1313.20 844.01,1313.20 842.53,1313.20 841.15,1313.20 839.89,1313.20 838.77,1313.20 837.79,1313.20 836.96,1313.20 836.28,1313.20 835.74,1313.20 835.34,1313.20 835.06,1313.20 834.88,1313.20 834.79,1313.20 834.76,1313.20 834.75,1313.20" fill="#b0cce0"/>
</g>
<g id="flowlines" fill="none" stroke-linecap="butt" stroke-linejoin="round">
<polyline points="497.60,1313.20 497.61,1313.20 497.64,1313.20 497.73,1313.20 497.91,1313.20 498.19,1313.20 498.59,1313.20 499.13,1313.20 499.81,1313.20 500.64,1313.20 501.62,1313.20 502.74,1313.20 504.00,1313.20 505.38,1313.20 506.87,1313.20 508.45,1313.20 510.10,1313.20 511.81,1313.20 513.56,1313.20 515.34,1313.20 517.13,1313.20 518.94,1313.20 520.73,1313.20 522.53,1313.20 524.31,1313.20 526.08,1313.20 527.83,1313.20 529.58,1313.20 531.32,1313.20 533.06,1313.20 534.80,1313.20 536.55,1313.20 538.31,1313.20 540.09,1313.20 541.91,1313.20 543.75,1313.20 545.64,1313.20 547.58,1313.20 549.57,1313.20 551.62,1313.20 553.74,1313.20 555.91,1313.20 558.16,1313.20 560.47,1313.20 562.85,1313.20 565.31,1313.20 567.85,1313.20 570.46,1313.20 573.14,1313.20 575.90,1313.20 578.73,1313.20 581.63,1313.20 584.59,1313.20 587.61,1313.20 590.68,1313.20 593.81,1313.20 596.97,1313.20 600.17,1313.20 603.39,1313.20 606.63,1313.20 609.88,1313.20 613.12,1313.20 616.36,1313.20 619.58,1313.20 622.78,1313.20 625.94,1313.20 629.07,1313.20 632.14,1313.20 635.16,1313.20 638.12,1313.20 641.02,1313.20 643.85,1313.20 646.61,1313.20 649.29,1313.20 651.90,1313.20 654.44,1313.20 656.90,1313.20 659.28,1313.20 661.59,1313.20 663.84,1313.20 666.01,1313.20 668.13,1313.20 670.18,1313.20 672.17,1313.20 674.11,1313.20 676.00,1313.20 677.84,1313.20 679.66,1313.20 681.44,1313.20 683.20,1313.20 684.95,1313.20 686.69,1313.20 688.43,1313.20 690.17,1313.20 691.92,1313.20 693.67,1313.20 695.44,1313.20 697.22,1313.20 699.02,1313.20 700.81,1313.20 702.62,1313.20 704.41,1313.20 706.19,1313.20 707.94,1313.20 709.65,1313.20 711.30,1313.20 712.88,1313.20 714.37,1313.20 715.75,1313.20 717.01,1313.20 718.13,1313.20 719.11,1313.20 719.94,1313.20 720.62,1313.20 721.16,1313.20 721.56,1313.20 721.84,1313.20 722.02,1313.20 722.11,1313.20 722.14,1313.20 722.15,1313.20" stroke="#f1b2d6" stroke-width="2.60"/>
<polyline points="497.60,1057.20 497.61,1057.20 497.64,1057.17 497.73,1057.10 497.91,1056.96 498.19,1056.72 498.59,1056.37 499.13,1055.87 499.81,1055.21 500.64,1054.36 501.62,1053.31 502.74,1052.05 504.00,1050.56 505.38,1048.83 506.87,1046.87 508.45,1044.67 510.10,1042.23 511.81,1039.56 513.56,1036.66 515.34,1033.53 517.13,1030.17 518.94,1026.59 520.73,1022.78 522.53,1018.74 524.31,1014.46 526.08,1009.94 527.83,1005.17 529.58,1000.12 531.32,994.79 533.06,989.16 534.80,983.20 536.55,976.89 538.31,970.21 540.09,963.13 541.91,955.63 543.75,947.67 545.64,939.23 547.58,930.30 549.57,920.84 551.62,910.85 553.74,900.33 555.91,889.28 558.16,877.70 560.47,865.57 562.85,852.89 565.31,839.65 567.85,825.86 570.46,811.52 573.14,796.65 575.90,781.25 578.73,765.35 581.63,748.97 584.59,732.15 587.61,714.92 590.68,697.31 593.81,679.38 596.97,661.17 600.17,642.73 603.39,624.12 606.63,605.39 609.88,586.60 613.12,567.81 616.36,549.08 619.58,530.47 622.78,512.03 625.94,493.82 629.07,475.89 632.14,458.28 635.16,441.05 638.12,424.23 641.02,407.85 643.85,391.95 646.61,376.55 649.29,361.68 651.90,347.34 654.44,333.55 656.90,320.31 659.28,307.63 661.59,295.50 663.84,283.92 666.01,272.87 668.13,262.35 670.18,252.36 672.17,242.90 674.11,233.97 676.00,225.53 677.84,217.57 679.66,210.07 681.44,202.99 683.20,196.31 684.95,190.00 686.69,184.04 688.43,178.41 690.17,173.08 691.92,168.03 693.67,163.26 695.44,158.74 697.22,154.46 699.02,150.42 700.81,146.61 702.62,143.03 704.41,139.67 706.19,136.54 707.94,133.64 709.65,130.97 711.30,128.53 712.88,126.33 714.37,124.37 715.75,122.64 717.01,121.15 718.13,119.89 719.11,118.84 719.94,117.99 720.62,117.33 721.16,116.83 721.56,116.48 721.84,116.24 722.02,116.10 722.11,116.03 722.14,116.00 722.15,116.00" stroke="#e89b5e" stroke-width="2.45"/>
<polyline points="497.60,1057.20 497.61,1057.20 497.64,1057.17 497.73,1057.10 497.91,1056.96 498.19,1056.74 498.59,1056.39 499.13,1055.91 499.81,1055.27 500.64,1054.45 501.62,1053.44 502.74,1052.22 504.00,1050.77 505.38,1049.10 506.87,1047.21 508.45,1045.08 510.10,1042.72 511.81,1040.14 513.56,1037.33 515.34,1034.30 517.13,1031.05 518.94,1027.58 520.73,1023.90 522.53,1019.99 524.31,1015.85 526.08,1011.48 527.83,1006.86 529.58,1001.98 531.32,996.82 533.06,991.37 534.80,985.60 536.55,979.50 538.31,973.04 540.09,966.19 541.91,958.93 543.75,951.23 545.64,943.07 547.58,934.42 549.57,925.27 551.62,915.61 553.74,905.43 555.91,894.74 558.16,883.54 560.47,871.80 562.85,859.53 565.31,846.72 567.85,833.38 570.46,819.51 573.14,805.12 575.90,790.22 578.73,774.84 581.63,758.99 584.59,742.72 587.61,726.05 590.68,709.01 593.81,691.67 596.97,674.05 600.17,656.21 603.39,638.20 606.63,620.08 609.88,601.90 613.12,583.72 616.36,565.60 619.58,547.59 622.78,529.75 625.94,512.13 629.07,494.79 632.14,477.75 635.16,461.08 638.12,444.81 641.02,428.96 643.85,413.58 646.61,398.68 649.29,384.29 651.90,370.42 654.44,357.08 656.90,344.27 659.28,332.00 661.59,320.26 663.84,309.06 666.01,298.37 668.13,288.19 670.18,278.53 672.17,269.38 674.11,260.73 676.00,252.57 677.84,244.87 679.66,237.61 681.44,230.76 683.20,224.30 684.95,218.20 686.69,212.43 688.43,206.98 690.17,201.82 691.92,196.94 693.67,192.32 695.44,187.95 697.22,183.81 699.02,179.90 700.81,176.22 702.62,172.75 704.41,169.50 706.19,166.47 707.94,163.66 709.65,161.08 711.30,158.72 712.88,156.59 714.37,154.70 715.75,153.03 717.01,151.58 718.13,150.36 719.11,149.35 719.94,148.53 720.62,147.89 721.16,147.41 721.56,147.06 721.84,146.84 722.02,146.70 722.11,146.63 722.14,146.60 722.15,146.60" stroke="#9bb056" stroke-width="2.20"/>
<polyline points="497.60,1185.40 497.61,1185.40 497.64,1185.37 497.73,1185.31 497.91,1185.19 498.19,1184.98 498.59,1184.67 499.13,1184.24 499.81,1183.66 500.64,1182.92 501.62,1182.01 502.74,1180.90 504.00,1179.60 505.38,1178.10 506.87,1176.38 508.45,1174.46 510.10,1172.34 511.81,1170.01 513.56,1167.47 515.34,1164.74 517.13,1161.81 518.94,1158.68 520.73,1155.36 522.53,1151.83 524.31,1148.10 526.08,1144.15 527.83,1139.99 529.58,1135.58 531.32,1130.93 533.06,1126.01 534.80,1120.81 536.55,1115.30 538.31,1109.47 540.09,1103.29 541.91,1096.74 543.75,1089.80 545.64,1082.44 547.58,1074.64 549.57,1066.38 551.62,1057.67 553.74,1048.48 555.91,1038.84 558.16,1028.73 560.47,1018.14 562.85,1007.07 565.31,995.52 567.85,983.48 570.46,970.97 573.14,957.98 575.90,944.54 578.73,930.67 581.63,916.37 584.59,901.69 587.61,886.65 590.68,871.28 593.81,855.63 596.97,839.74 600.17,823.64 603.39,807.40 606.63,791.05 609.88,774.65 613.12,758.25 616.36,741.90 619.58,725.66 622.78,709.56 625.94,693.67 629.07,678.02 632.14,662.65 635.16,647.61 638.12,632.93 641.02,618.63 643.85,604.76 646.61,591.32 649.29,578.33 651.90,565.82 654.44,553.78 656.90,542.23 659.28,531.16 661.59,520.57 663.84,510.46 666.01,500.82 668.13,491.63 670.18,482.92 672.17,474.66 674.11,466.86 676.00,459.50 677.84,452.56 679.66,446.01 681.44,439.83 683.20,434.00 684.95,428.49 686.69,423.29 688.43,418.37 690.17,413.72 691.92,409.31 693.67,405.15 695.44,401.20 697.22,397.47 699.02,393.94 700.81,390.62 702.62,387.49 704.41,384.56 706.19,381.83 707.94,379.29 709.65,376.96 711.30,374.84 712.88,372.92 714.37,371.20 715.75,369.70 717.01,368.40 718.13,367.29 719.11,366.38 719.94,365.64 720.62,365.06 721.16,364.63 721.56,364.32 721.84,364.11 722.02,363.99 722.11,363.93 722.14,363.90 722.15,363.90" stroke="#3ab6aa" stroke-width="2.45"/>
<polyline points="497.60,1267.60 497.61,1267.60 497.64,1267.57 497.73,1267.50 497.91,1267.37 498.19,1267.14 498.59,1266.80 499.13,1266.32 499.81,1265.69 500.64,1264.87 501.62,1263.87 502.74,1262.65 504.00,1261.22 505.38,1259.57 506.87,1257.68 508.45,1255.57 510.10,1253.23 511.81,1250.67 513.56,1247.88 515.34,1244.87 517.13,1241.65 518.94,1238.21 520.73,1234.55 522.53,1230.67 524.31,1226.57 526.08,1222.23 527.83,1217.64 529.58,1212.80 531.32,1207.68 533.06,1202.27 534.80,1196.55 536.55,1190.49 538.31,1184.08 540.09,1177.28 541.91,1170.07 543.75,1162.43 545.64,1154.33 547.58,1145.75 549.57,1136.67 551.62,1127.08 553.74,1116.98 555.91,1106.38 558.16,1095.25 560.47,1083.61 562.85,1071.43 565.31,1058.72 567.85,1045.48 570.46,1031.71 573.14,1017.43 575.90,1002.64 578.73,987.38 581.63,971.65 584.59,955.50 587.61,938.96 590.68,922.05 593.81,904.84 596.97,887.35 600.17,869.64 603.39,851.77 606.63,833.79 609.88,815.75 613.12,797.71 616.36,779.73 619.58,761.86 622.78,744.15 625.94,726.66 629.07,709.45 632.14,692.54 635.16,676.00 638.12,659.85 641.02,644.12 643.85,628.86 646.61,614.07 649.29,599.79 651.90,586.02 654.44,572.78 656.90,560.07 659.28,547.89 661.59,536.25 663.84,525.12 666.01,514.52 668.13,504.42 670.18,494.83 672.17,485.75 674.11,477.17 676.00,469.07 677.84,461.43 679.66,454.22 681.44,447.42 683.20,441.01 684.95,434.95 686.69,429.23 688.43,423.82 690.17,418.70 691.92,413.86 693.67,409.27 695.44,404.93 697.22,400.83 699.02,396.95 700.81,393.29 702.62,389.85 704.41,386.63 706.19,383.62 707.94,380.83 709.65,378.27 711.30,375.93 712.88,373.82 714.37,371.93 715.75,370.28 717.01,368.85 718.13,367.63 719.11,366.63 719.94,365.81 720.62,365.18 721.16,364.70 721.56,364.36 721.84,364.13 722.02,364.00 722.11,363.93 722.14,363.90 722.15,363.90" stroke="#9da5cd" stroke-width="2.45"/>
<polyline points="497.60,1313.20 497.61,1313.20 497.64,1313.17 497.73,1313.10 497.91,1312.95 498.19,1312.72 498.59,1312.36 499.13,1311.86 499.81,1311.19 500.64,1310.34 501.62,1309.28 502.74,1308.00 504.00,1306.50 505.38,1304.76 506.87,1302.78 508.45,1300.56 510.10,1298.10 511.81,1295.41 513.56,1292.48 515.34,1289.33 517.13,1285.94 518.94,1282.33 520.73,1278.48 522.53,1274.41 524.31,1270.10 526.08,1265.54 527.83,1260.72 529.58,1255.63 531.32,1250.26 533.06,1244.57 534.80,1238.56 536.55,1232.20 538.31,1225.46 540.09,1218.32 541.91,1210.75 543.75,1202.73 545.64,1194.22 547.58,1185.21 549.57,1175.67 551.62,1165.59 553.74,1154.98 555.91,1143.84 558.16,1132.16 560.47,1119.92 562.85,1107.13 565.31,1093.78 567.85,1079.87 570.46,1065.41 573.14,1050.40 575.90,1034.87 578.73,1018.84 581.63,1002.32 584.59,985.35 587.61,967.97 590.68,950.22 593.81,932.13 596.97,913.76 600.17,895.16 603.39,876.39 606.63,857.50 609.88,838.55 613.12,819.60 616.36,800.71 619.58,781.94 622.78,763.34 625.94,744.97 629.07,726.88 632.14,709.13 635.16,691.75 638.12,674.78 641.02,658.26 643.85,642.23 646.61,626.70 649.29,611.69 651.90,597.23 654.44,583.32 656.90,569.97 659.28,557.18 661.59,544.94 663.84,533.26 666.01,522.12 668.13,511.51 670.18,501.43 672.17,491.89 674.11,482.88 676.00,474.37 677.84,466.35 679.66,458.78 681.44,451.64 683.20,444.90 684.95,438.54 686.69,432.53 688.43,426.84 690.17,421.47 691.92,416.38 693.67,411.56 695.44,407.00 697.22,402.69 699.02,398.62 700.81,394.77 702.62,391.16 704.41,387.77 706.19,384.62 707.94,381.69 709.65,379.00 711.30,376.54 712.88,374.32 714.37,372.34 715.75,370.60 717.01,369.10 718.13,367.82 719.11,366.76 719.94,365.91 720.62,365.24 721.16,364.74 721.56,364.38 721.84,364.15 722.02,364.00 722.11,363.93 722.14,363.90 722.15,363.90" stroke="#d690c0" stroke-width="2.45"/>
<polyline points="834.75,1313.20 834.76,1313.20 834.79,1313.20 834.88,1313.20 835.06,1313.20 835.34,1313.20 835.74,1313.20 836.28,1313.20 836.96,1313.20 837.79,1313.20 838.77,1313.20 839.89,1313.20 841.15,1313.20 842.53,1313.20 844.01,1313.20 845.59,1313.20 847.24,1313.20 848.95,1313.20 850.71,1313.20 852.48,1313.20 854.28,1313.20 856.08,1313.20 857.88,1313.20 859.67,1313.20 861.45,1313.20 863.22,1313.20 864.98,1313.20 866.72,1313.20 868.46,1313.20 870.20,1313.20 871.94,1313.20 873.69,1313.20 875.45,1313.20 877.23,1313.20 879.05,1313.20 880.89,1313.20 882.78,1313.20 884.72,1313.20 886.71,1313.20 888.76,1313.20 890.87,1313.20 893.05,1313.20 895.29,1313.20 897.60,1313.20 899.99,1313.20 902.45,1313.20 904.98,1313.20 907.59,1313.20 910.27,1313.20 913.03,1313.20 915.86,1313.20 918.76,1313.20 921.72,1313.20 924.74,1313.20 927.81,1313.20 930.93,1313.20 934.10,1313.20 937.29,1313.20 940.51,1313.20 943.75,1313.20 947.00,1313.20 950.25,1313.20 953.49,1313.20 956.71,1313.20 959.90,1313.20 963.07,1313.20 966.19,1313.20 969.26,1313.20 972.28,1313.20 975.24,1313.20 978.14,1313.20 980.97,1313.20 983.73,1313.20 986.41,1313.20 989.02,1313.20 991.55,1313.20 994.01,1313.20 996.40,1313.20 998.71,1313.20 1000.95,1313.20 1003.12,1313.20 1005.24,1313.20 1007.29,1313.20 1009.28,1313.20 1011.22,1313.20 1013.11,1313.20 1014.95,1313.20 1016.77,1313.20 1018.55,1313.20 1020.31,1313.20 1022.06,1313.20 1023.80,1313.20 1025.54,1313.20 1027.28,1313.20 1029.02,1313.20 1030.78,1313.20 1032.55,1313.20 1034.33,1313.20 1036.12,1313.20 1037.92,1313.20 1039.72,1313.20 1041.52,1313.20 1043.29,1313.20 1045.05,1313.20 1046.76,1313.20 1048.41,1313.20 1049.99,1313.20 1051.47,1313.20 1052.85,1313.20 1054.11,1313.20 1055.23,1313.20 1056.21,1313.20 1057.04,1313.20 1057.72,1313.20 1058.26,1313.20 1058.66,1313.20 1058.94,1313.20 1059.12,1313.20 1059.21,1313.20 1059.24,1313.20 1059.25,1313.20" stroke="#f1b2d6" stroke-width="2.60"/>
<polyline points="834.75,116.00 834.76,116.00 834.79,116.01 834.88,116.05 835.06,116.11 835.34,116.22 835.74,116.39 836.28,116.62 836.96,116.92 837.79,117.31 838.77,117.80 839.89,118.38 841.15,119.07 842.53,119.87 844.01,120.78 845.59,121.80 847.24,122.93 848.95,124.16 850.71,125.51 852.48,126.96 854.28,128.51 856.08,130.17 857.88,131.93 859.67,133.80 861.45,135.78 863.22,137.87 864.98,140.08 866.72,142.42 868.46,144.88 870.20,147.49 871.94,150.25 873.69,153.17 875.45,156.26 877.23,159.54 879.05,163.01 880.89,166.69 882.78,170.60 884.72,174.73 886.71,179.11 888.76,183.73 890.87,188.60 893.05,193.71 895.29,199.07 897.60,204.69 899.99,210.56 902.45,216.68 904.98,223.07 907.59,229.70 910.27,236.59 913.03,243.71 915.86,251.07 918.76,258.65 921.72,266.44 924.74,274.41 927.81,282.56 930.93,290.86 934.10,299.29 937.29,307.82 940.51,316.44 943.75,325.10 947.00,333.80 950.25,342.50 953.49,351.16 956.71,359.78 959.90,368.31 963.07,376.74 966.19,385.04 969.26,393.19 972.28,401.16 975.24,408.95 978.14,416.53 980.97,423.89 983.73,431.01 986.41,437.90 989.02,444.53 991.55,450.92 994.01,457.04 996.40,462.91 998.71,468.53 1000.95,473.89 1003.12,479.00 1005.24,483.87 1007.29,488.49 1009.28,492.87 1011.22,497.00 1013.11,500.91 1014.95,504.59 1016.77,508.06 1018.55,511.34 1020.31,514.43 1022.06,517.35 1023.80,520.11 1025.54,522.72 1027.28,525.18 1029.02,527.52 1030.78,529.73 1032.55,531.82 1034.33,533.80 1036.12,535.67 1037.92,537.43 1039.72,539.09 1041.52,540.64 1043.29,542.09 1045.05,543.44 1046.76,544.67 1048.41,545.80 1049.99,546.82 1051.47,547.73 1052.85,548.53 1054.11,549.22 1055.23,549.80 1056.21,550.29 1057.04,550.68 1057.72,550.98 1058.26,551.21 1058.66,551.38 1058.94,551.49 1059.12,551.55 1059.21,551.59 1059.24,551.60 1059.25,551.60" stroke="#ffae9f" stroke-width="2.70"/>
<polyline points="834.75,116.00 834.76,116.00 834.79,116.02 834.88,116.06 835.06,116.14 835.34,116.28 835.74,116.48 836.28,116.77 836.96,117.15 837.79,117.64 838.77,118.25 839.89,118.98 841.15,119.84 842.53,120.84 844.01,121.98 845.59,123.25 847.24,124.66 848.95,126.21 850.71,127.89 852.48,129.70 854.28,131.64 856.08,133.72 857.88,135.92 859.67,138.26 861.45,140.73 863.22,143.35 864.98,146.11 866.72,149.03 868.46,152.12 870.20,155.38 871.94,158.83 873.69,162.48 875.45,166.34 877.23,170.44 879.05,174.78 880.89,179.39 882.78,184.27 884.72,189.44 886.71,194.91 888.76,200.69 890.87,206.78 893.05,213.18 895.29,219.88 897.60,226.90 899.99,234.24 902.45,241.90 904.98,249.88 907.59,258.18 910.27,266.79 913.03,275.70 915.86,284.90 918.76,294.38 921.72,304.11 924.74,314.09 927.81,324.28 930.93,334.65 934.10,345.19 937.29,355.87 940.51,366.64 943.75,377.48 947.00,388.35 950.25,399.22 953.49,410.06 956.71,420.83 959.90,431.51 963.07,442.05 966.19,452.42 969.26,462.61 972.28,472.59 975.24,482.32 978.14,491.80 980.97,501.00 983.73,509.91 986.41,518.52 989.02,526.82 991.55,534.80 994.01,542.46 996.40,549.80 998.71,556.82 1000.95,563.52 1003.12,569.92 1005.24,576.01 1007.29,581.79 1009.28,587.26 1011.22,592.43 1013.11,597.31 1014.95,601.92 1016.77,606.26 1018.55,610.36 1020.31,614.22 1022.06,617.87 1023.80,621.32 1025.54,624.58 1027.28,627.67 1029.02,630.59 1030.78,633.35 1032.55,635.97 1034.33,638.44 1036.12,640.78 1037.92,642.98 1039.72,645.06 1041.52,647.00 1043.29,648.81 1045.05,650.49 1046.76,652.04 1048.41,653.45 1049.99,654.72 1051.47,655.86 1052.85,656.86 1054.11,657.72 1055.23,658.45 1056.21,659.06 1057.04,659.55 1057.72,659.93 1058.26,660.22 1058.66,660.42 1058.94,660.56 1059.12,660.64 1059.21,660.68 1059.24,660.70 1059.25,660.70" stroke="#e79d60" stroke-width="2.00"/>
<polyline points="834.75,146.60 834.76,146.60 834.79,146.62 834.88,146.66 835.06,146.73 835.34,146.86 835.74,147.06 836.28,147.33 836.96,147.69 837.79,148.15 838.77,148.72 839.89,149.41 841.15,150.23 842.53,151.17 844.01,152.24 845.59,153.44 847.24,154.78 848.95,156.23 850.71,157.82 852.48,159.53 854.28,161.36 856.08,163.32 857.88,165.40 859.67,167.61 861.45,169.94 863.22,172.41 864.98,175.02 866.72,177.78 868.46,180.69 870.20,183.77 871.94,187.02 873.69,190.47 875.45,194.12 877.23,197.98 879.05,202.08 880.89,206.43 882.78,211.04 884.72,215.92 886.71,221.08 888.76,226.54 890.87,232.28 893.05,238.32 895.29,244.65 897.60,251.27 899.99,258.20 902.45,265.43 904.98,272.96 907.59,280.79 910.27,288.92 913.03,297.33 915.86,306.01 918.76,314.96 921.72,324.15 924.74,333.56 927.81,343.18 930.93,352.97 934.10,362.92 937.29,372.99 940.51,383.16 943.75,393.39 947.00,403.65 950.25,413.91 953.49,424.14 956.71,434.31 959.90,444.38 963.07,454.33 966.19,464.12 969.26,473.74 972.28,483.15 975.24,492.34 978.14,501.29 980.97,509.97 983.73,518.38 986.41,526.51 989.02,534.34 991.55,541.87 994.01,549.10 996.40,556.03 998.71,562.65 1000.95,568.98 1003.12,575.02 1005.24,580.76 1007.29,586.22 1009.28,591.38 1011.22,596.26 1013.11,600.87 1014.95,605.22 1016.77,609.32 1018.55,613.18 1020.31,616.83 1022.06,620.28 1023.80,623.53 1025.54,626.61 1027.28,629.52 1029.02,632.28 1030.78,634.89 1032.55,637.36 1034.33,639.69 1036.12,641.90 1037.92,643.98 1039.72,645.94 1041.52,647.77 1043.29,649.48 1045.05,651.07 1046.76,652.52 1048.41,653.86 1049.99,655.06 1051.47,656.13 1052.85,657.07 1054.11,657.89 1055.23,658.58 1056.21,659.15 1057.04,659.61 1057.72,659.97 1058.26,660.24 1058.66,660.44 1058.94,660.57 1059.12,660.64 1059.21,660.68 1059.24,660.70 1059.25,660.70" stroke="#93b35a" stroke-width="2.30"/>
<polyline points="834.75,363.90 834.76,363.90 834.79,363.93 834.88,363.99 835.06,364.12 835.34,364.33 835.74,364.64 836.28,365.09 836.96,365.68 837.79,366.43 838.77,367.37 839.89,368.50 841.15,369.83 842.53,371.37 844.01,373.12 845.59,375.09 847.24,377.26 848.95,379.65 850.71,382.24 852.48,385.04 854.28,388.03 856.08,391.23 857.88,394.63 859.67,398.24 861.45,402.06 863.22,406.10 864.98,410.36 866.72,414.86 868.46,419.62 870.20,424.66 871.94,429.98 873.69,435.61 875.45,441.57 877.23,447.89 879.05,454.60 880.89,461.70 882.78,469.23 884.72,477.21 886.71,485.66 888.76,494.57 890.87,503.97 893.05,513.83 895.29,524.18 897.60,535.01 899.99,546.33 902.45,558.15 904.98,570.46 907.59,583.27 910.27,596.55 913.03,610.30 915.86,624.49 918.76,639.12 921.72,654.14 924.74,669.52 927.81,685.24 930.93,701.25 934.10,717.52 937.29,733.98 940.51,750.60 943.75,767.32 947.00,784.10 950.25,800.88 953.49,817.60 956.71,834.22 959.90,850.68 963.07,866.95 966.19,882.96 969.26,898.68 972.28,914.06 975.24,929.08 978.14,943.71 980.97,957.90 983.73,971.65 986.41,984.93 989.02,997.74 991.55,1010.05 994.01,1021.87 996.40,1033.19 998.71,1044.02 1000.95,1054.37 1003.12,1064.23 1005.24,1073.63 1007.29,1082.54 1009.28,1090.99 1011.22,1098.97 1013.11,1106.50 1014.95,1113.60 1016.77,1120.31 1018.55,1126.63 1020.31,1132.59 1022.06,1138.22 1023.80,1143.54 1025.54,1148.58 1027.28,1153.34 1029.02,1157.84 1030.78,1162.10 1032.55,1166.14 1034.33,1169.96 1036.12,1173.57 1037.92,1176.97 1039.72,1180.17 1041.52,1183.16 1043.29,1185.96 1045.05,1188.55 1046.76,1190.94 1048.41,1193.11 1049.99,1195.08 1051.47,1196.83 1052.85,1198.37 1054.11,1199.70 1055.23,1200.83 1056.21,1201.77 1057.04,1202.52 1057.72,1203.11 1058.26,1203.56 1058.66,1203.87 1058.94,1204.08 1059.12,1204.21 1059.21,1204.27 1059.24,1204.30 1059.25,1204.30" stroke="#5fbf8b" stroke-width="2.45"/>
<polyline points="834.75,363.90 834.76,363.90 834.79,363.93 834.88,364.00 835.06,364.15 835.34,364.38 835.74,364.74 836.28,365.24 836.96,365.91 837.79,366.76 838.77,367.82 839.89,369.10 841.15,370.60 842.53,372.34 844.01,374.32 845.59,376.54 847.24,379.00 848.95,381.69 850.71,384.62 852.48,387.77 854.28,391.16 856.08,394.77 857.88,398.62 859.67,402.69 861.45,407.00 863.22,411.56 864.98,416.38 866.72,421.47 868.46,426.84 870.20,432.53 871.94,438.54 873.69,444.90 875.45,451.64 877.23,458.78 879.05,466.35 880.89,474.37 882.78,482.88 884.72,491.89 886.71,501.43 888.76,511.51 890.87,522.12 893.05,533.26 895.29,544.94 897.60,557.18 899.99,569.97 902.45,583.32 904.98,597.23 907.59,611.69 910.27,626.70 913.03,642.23 915.86,658.26 918.76,674.78 921.72,691.75 924.74,709.13 927.81,726.88 930.93,744.97 934.10,763.34 937.29,781.94 940.51,800.71 943.75,819.60 947.00,838.55 950.25,857.50 953.49,876.39 956.71,895.16 959.90,913.76 963.07,932.13 966.19,950.22 969.26,967.97 972.28,985.35 975.24,1002.32 978.14,1018.84 980.97,1034.87 983.73,1050.40 986.41,1065.41 989.02,1079.87 991.55,1093.78 994.01,1107.13 996.40,1119.92 998.71,1132.16 1000.95,1143.84 1003.12,1154.98 1005.24,1165.59 1007.29,1175.67 1009.28,1185.21 1011.22,1194.22 1013.11,1202.73 1014.95,1210.75 1016.77,1218.32 1018.55,1225.46 1020.31,1232.20 1022.06,1238.56 1023.80,1244.57 1025.54,1250.26 1027.28,1255.63 1029.02,1260.72 1030.78,1265.54 1032.55,1270.10 1034.33,1274.41 1036.12,1278.48 1037.92,1282.33 1039.72,1285.94 1041.52,1289.33 1043.29,1292.48 1045.05,1295.41 1046.76,1298.10 1048.41,1300.56 1049.99,1302.78 1051.47,1304.76 1052.85,1306.50 1054.11,1308.00 1055.23,1309.28 1056.21,1310.34 1057.04,1311.19 1057.72,1311.86 1058.26,1312.36 1058.66,1312.72 1058.94,1312.95 1059.12,1313.10 1059.21,1313.17 1059.24,1313.20 1059.25,1313.20" stroke="#bb87b6" stroke-width="2.45"/>
</g>
<g id="strata">
<rect x="385.00" y="1267.60" width="112.60" height="45.60" fill="#bf623d"/>
<rect x="385.00" y="1185.40" width="112.60" height="82.20" fill="#56646f"/>
<rect x="385.00" y="1057.50" width="112.60" height="127.90" fill="#719055"/>
<rect x="722.15" y="363.90" width="112.60" height="949.30" fill="#55a2c3"/>
<rect x="722.15" y="146.60" width="112.60" height="217.30" fill="#719055"/>
<rect x="722.15" y="116.00" width="112.60" height="30.60" fill="#d8433a"/>
<rect x="1059.25" y="1204.30" width="112.60" height="108.90" fill="#e8d77f"/>
<rect x="1059.25" y="660.70" width="112.60" height="543.60" fill="#719055"/>
<rect x="1059.25" y="551.60" width="112.60" height="109.10" fill="#5c5799"/>
</g>
<g id="fringe" fill="none">
<rect x="722.15" y="113.7" width="112.60" height="3.8" fill="url(#pdgtop)" stroke="none"/>
<line x1="384.00" y1="1056.80" x2="497.60" y2="1056.80" stroke="#9a9f3c" stroke-width="1.50" stroke-opacity="0.90"/>
<line x1="384.00" y1="1314.00" x2="497.60" y2="1314.00" stroke="#d79ac4" stroke-width="1.90" stroke-opacity="0.70"/>
<line x1="384.40" y1="1057.20" x2="384.40" y2="1185.40" stroke="#7cc85a" stroke-width="1.50" stroke-opacity="0.40"/>
<line x1="384.40" y1="1185.40" x2="384.40" y2="1267.60" stroke="#4fc0ea" stroke-width="1.50" stroke-opacity="0.33"/>
<line x1="384.40" y1="1267.60" x2="384.40" y2="1313.20" stroke="#b9a0f5" stroke-width="1.50" stroke-opacity="0.38"/>
<line x1="385.00" y1="1185.40" x2="497.60" y2="1185.40" stroke="#4aa898" stroke-width="1.40" stroke-opacity="0.35"/>
<line x1="722.15" y1="146.10" x2="834.75" y2="146.10" stroke="#8c6a40" stroke-width="1.40" stroke-opacity="0.45"/>
<line x1="722.15" y1="1314.00" x2="834.75" y2="1314.00" stroke="#e8a0cf" stroke-width="2.00" stroke-opacity="0.90"/>
<line x1="1059.25" y1="550.80" x2="1173.25" y2="550.80" stroke="#ffb2a2" stroke-width="1.90" stroke-opacity="0.70"/>
<line x1="1172.55" y1="551.60" x2="1172.55" y2="660.70" stroke="#ffb2a2" stroke-width="1.50" stroke-opacity="0.70"/>
<line x1="1172.55" y1="660.70" x2="1172.55" y2="1204.30" stroke="#8fd070" stroke-width="1.50" stroke-opacity="0.55"/>
<line x1="1172.55" y1="1204.30" x2="1172.55" y2="1313.20" stroke="#80dcc0" stroke-width="1.50" stroke-opacity="0.55"/>
<line x1="1059.25" y1="1314.00" x2="1173.25" y2="1314.00" stroke="#c9a3c4" stroke-width="2.00" stroke-opacity="0.90"/>
</g>
<g id="axes" stroke="#5b4b46" stroke-width="2.4" fill="none">
<rect x="240.30" y="57.00" width="1076.70" height="1314.60"/>
<line x1="230.90" y1="1313.20" x2="239.70" y2="1313.20" stroke="#3c2e2a" stroke-width="2.9"/>
<line x1="230.90" y1="1057.60" x2="239.70" y2="1057.60" stroke="#3c2e2a" stroke-width="2.9"/>
<line x1="230.90" y1="802.00" x2="239.70" y2="802.00" stroke="#3c2e2a" stroke-width="2.9"/>
<line x1="230.90" y1="546.30" x2="239.70" y2="546.30" stroke="#3c2e2a" stroke-width="2.9"/>
<line x1="230.90" y1="290.50" x2="239.70" y2="290.50" stroke="#3c2e2a" stroke-width="2.9"/>
<line x1="441.40" y1="1372.20" x2="441.40" y2="1381.40" stroke="#3c2e2a" stroke-width="2.9"/>
<line x1="778.50" y1="1372.20" x2="778.50" y2="1381.40" stroke="#3c2e2a" stroke-width="2.9"/>
<line x1="1115.60" y1="1372.20" x2="1115.60" y2="1381.40" stroke="#3c2e2a" stroke-width="2.9"/>
</g>
<g id="labels">
<text transform="translate(172.60,1331.05) scale(1,1.043)" style="font-size:67.00px">0</text>
<text transform="translate(173.20,1075.45) scale(1,1.043)" style="font-size:67.00px">5</text>
<text transform="translate(147.50,819.85) scale(1,1.043)" style="font-size:67.00px">1<tspan dx="-2.2">0</tspan></text>
<text transform="translate(147.50,564.15) scale(1,1.043)" style="font-size:67.00px">1<tspan dx="-2.4">5</tspan></text>
<text transform="translate(144.75,308.35) scale(1,1.043)" style="font-size:67.00px">20</text>
<text transform="translate(400.90,1447.00) scale(1,1.020)" style="font-size:67.00px">HCG</text>
<text transform="translate(730.10,1447.00) scale(1,1.020)" style="font-size:67.00px">P<tspan dx="-3.7">DG</tspan></text>
<text transform="translate(1074.90,1447.00) scale(1,1.020)" style="font-size:67.00px">CG</text>
<text transform="translate(110.3,929.5) rotate(-90)" x="0" y="0">Relative Abundance</text>
</g>
<g id="legend">
<rect x="1391.10" y="472.40" width="90.50" height="90.10" fill="#5c5799" stroke="#fb756c" stroke-width="2.5"/>
<text x="1527.50" y="536.00" style="font-size:67.00px;font-kerning:none">Human alphaherpesvirus 1</text>
<rect x="1391.10" y="567.70" width="90.50" height="90.10" fill="#d8433a" stroke="#c28c20" stroke-width="2.5"/>
<text x="1527.50" y="631.10" style="font-size:67.00px;font-kerning:none">Human betaherpesvirus 7</text>
<rect x="1391.10" y="663.00" width="90.50" height="90.10" fill="#719055" stroke="#37b03d" stroke-width="2.5"/>
<text x="1527.50" y="726.20" style="font-size:66.88px;font-kerning:none">Human gammaherpesvirus 4</text>
<rect x="1391.10" y="758.30" width="90.50" height="90.10" fill="#e8d77f" stroke="#14ba90" stroke-width="2.5"/>
<text x="1527.50" y="821.30" style="font-size:67.00px;font-kerning:none">P<tspan dx="-4.1">orcine t</tspan><tspan dx="-1.6">ype C onco</tspan><tspan dx="-0.9">v</tspan><tspan dx="-0.8">irus</tspan></text>
<rect x="1391.10" y="853.60" width="90.50" height="90.10" fill="#56646f" stroke="#14abd4" stroke-width="2.5"/>
<text x="1527.50" y="916.40" style="font-size:67.00px;font-kerning:none">Rhino<tspan dx="-0.9">v</tspan><tspan dx="-0.8">irus A</tspan></text>
<rect x="1391.10" y="948.90" width="90.50" height="90.10" fill="#bf623d" stroke="#9f80c2" stroke-width="2.5"/>
<text x="1527.50" y="1011.50" style="font-size:67.00px;font-kerning:none">Rhino<tspan dx="-0.9">v</tspan><tspan dx="-0.8">irus C</tspan></text>
<rect x="1391.10" y="1044.20" width="90.50" height="90.10" fill="#55a2c3" stroke="#e56aab" stroke-width="2.5"/>
<text x="1527.50" y="1106.60" style="font-size:67.00px;font-kerning:none">SARS−<tspan dx="-1.5">CoV−2</tspan></text>
</g>
</svg>
</body></html>
